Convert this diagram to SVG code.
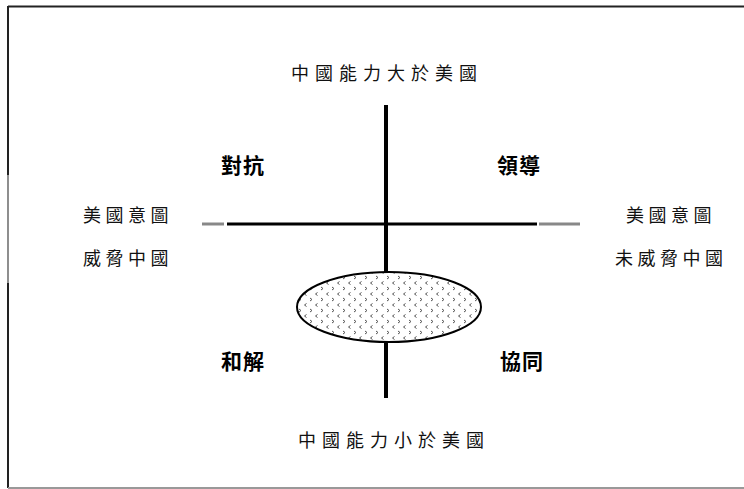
<svg xmlns="http://www.w3.org/2000/svg" width="744" height="489" viewBox="0 0 744 489">
<style>
.t{font-family:"Noto Sans CJK TC","Noto Sans CJK SC",sans-serif;font-size:18px;fill:#111}
.w{letter-spacing:6px}
.n{letter-spacing:4.5px}
.b{font-family:"Noto Sans CJK TC","Noto Sans CJK SC",sans-serif;font-size:21px;font-weight:bold;fill:#000;letter-spacing:1px}
</style>
<defs>
<pattern id="dots" x="0" y="0" width="11" height="11" patternUnits="userSpaceOnUse">
<path d="M2 1 L4 2.5 L2 4" fill="none" stroke="#555" stroke-width="1"/>
<path d="M9.5 6.5 L7.5 8 L9.5 9.5" fill="none" stroke="#555" stroke-width="1"/>
</pattern>
</defs>
<g id="frame">
<line x1="8" y1="6.5" x2="744" y2="6.5" stroke="#222" stroke-width="2"/>
<line x1="8" y1="6" x2="8" y2="175" stroke="#222" stroke-width="2"/>
<line x1="8" y1="175" x2="8" y2="283" stroke="#444" stroke-width="1.2"/>
<line x1="8" y1="283" x2="8" y2="488" stroke="#222" stroke-width="2"/>
<line x1="8" y1="488" x2="744" y2="488" stroke="#999" stroke-width="2"/>
</g>
<g id="connectors">
<line x1="386" y1="105" x2="386" y2="398" stroke="#000" stroke-width="4"/>
<line x1="227" y1="224" x2="537" y2="224" stroke="#000" stroke-width="3"/>
<line x1="202" y1="224" x2="224" y2="224" stroke="#888" stroke-width="3"/>
<line x1="539" y1="224" x2="580" y2="224" stroke="#888" stroke-width="3"/>
</g>
<g id="ellipse">
<ellipse cx="389" cy="307" rx="92" ry="35" fill="#fff"/>
<ellipse cx="389" cy="307" rx="92" ry="35" fill="url(#dots)" stroke="#000" stroke-width="2"/>
</g>
<g id="top"><text class="t w" x="291" y="80">中國能力大於美國</text></g>
<g id="bottom"><text class="t w" x="298" y="447">中國能力小於美國</text></g>
<g id="q1"><text class="b" x="221" y="173">對抗</text></g>
<g id="q2"><text class="b" x="497" y="173">領導</text></g>
<g id="q3"><text class="b" x="221" y="369">和解</text></g>
<g id="q4"><text class="b" x="500" y="369">協同</text></g>
<g id="left"><text class="t n" x="83" y="222">美國意圖</text><text class="t n" x="83" y="265">威脅中國</text></g>
<g id="right"><text class="t n" x="626" y="222">美國意圖</text><text class="t n" x="615" y="265">未威脅中國</text></g>
</svg>
